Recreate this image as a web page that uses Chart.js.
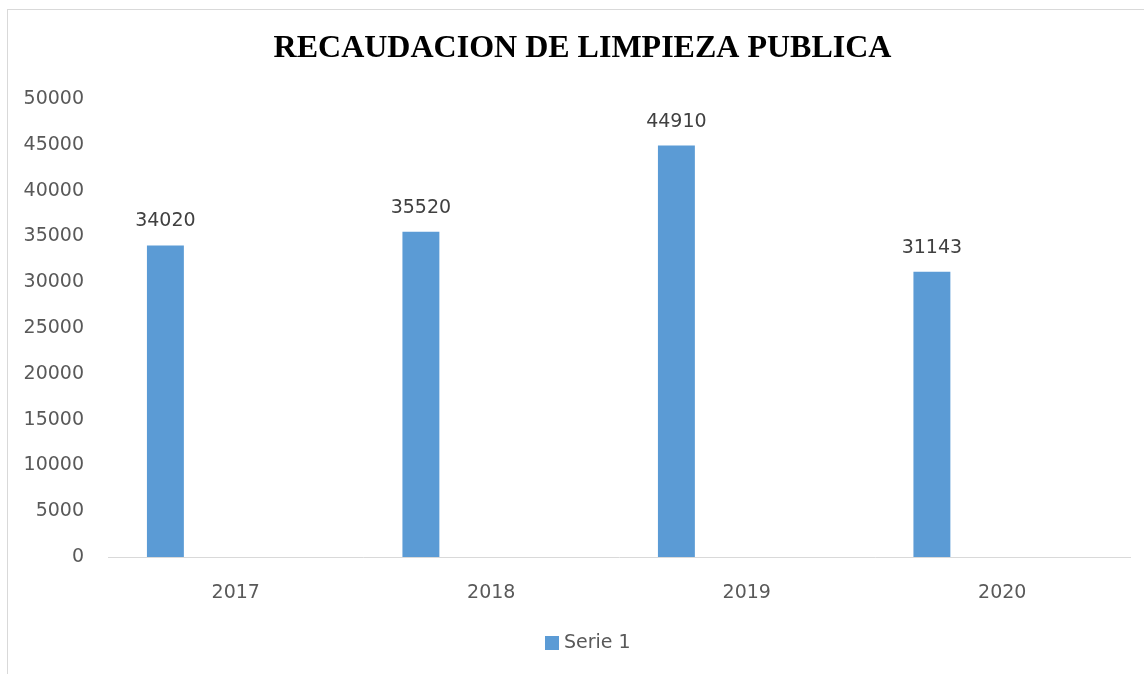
<!DOCTYPE html>
<html>
<head>
<meta charset="utf-8">
<script src="https://cdn.jsdelivr.net/npm/chart.js@4"></script>
<style>
  body { margin: 0; background: #fff; }
  #wrap { position: relative; width: 1144px; height: 674px; overflow: hidden; }
  #frame { position: absolute; left: 7px; top: 9px; width: 1160px; height: 700px; border: 1px solid #d9d9d9; }
  #chart { position: absolute; left: 0; top: 0; }
</style>
</head>
<body>
<div id="wrap">
  <div id="frame"></div>
  <canvas id="chart" width="1144" height="674"></canvas>
</div>
<script>
// data
const years = ['2017', '2018', '2019', '2020'];
const serie1 = [34020, 35520, 44910, 31143];
const serie2 = [null, null, null, null];
const serie3 = [null, null, null, null];
const yTicks = [0, 5000, 10000, 15000, 20000, 25000, 30000, 35000, 40000, 45000, 50000];
const chartTitle = 'RECAUDACION DE LIMPIEZA PUBLICA';
const legendLabel = 'Serie 1';

const barColor = '#5b9bd5';
const textFont = { family: 'DejaVu Sans', size: 19 };

// value labels, title and legend, placed like the original
const extras = {
    id: 'extras',
    afterDatasetsDraw(chart) {
        const ctx = chart.ctx;
        const meta = chart.getDatasetMeta(0);
        ctx.save();
        ctx.font = '19px "DejaVu Sans"';
        ctx.fillStyle = '#404040';
        ctx.textAlign = 'center';
        ctx.textBaseline = 'middle';
        meta.data.forEach(function(bar, i) {
            ctx.fillText(String(serie1[i]), bar.x, bar.y - 24);
        });

        // title
        ctx.font = 'bold 32px "Liberation Serif"';
        ctx.fillStyle = '#000';
        ctx.fillText(chartTitle, 582.5, 49);

        // legend
        ctx.fillStyle = barColor;
        ctx.fillRect(545, 636, 14, 14);
        ctx.font = '19px "DejaVu Sans"';
        ctx.fillStyle = '#595959';
        ctx.textAlign = 'left';
        ctx.fillText(legendLabel, 564, 643);
        ctx.restore();
    }
};

new Chart(document.getElementById('chart'), {
    type: 'bar',
    data: {
        labels: years,
        datasets: [
            { label: 'Serie 1', data: serie1, backgroundColor: barColor },
            { label: 'Serie 2', data: serie2, backgroundColor: '#ed7d31' },
            { label: 'Serie 3', data: serie3, backgroundColor: '#a5a5a5' }
        ]
    },
    options: {
        responsive: false,
        animation: false,
        categoryPercentage: 0.826,
        barPercentage: 0.525,
        layout: { padding: { left: 0, right: 14, top: 99, bottom: 50 } },
        scales: {
            x: {
                grid: { display: false },
                border: { display: true, color: '#d9d9d9', width: 1 },
                ticks: { color: '#595959', font: textFont, padding: 17 },
                afterFit: function(scale) { scale.height = 67; }
            },
            y: {
                min: 0,
                max: 50000,
                afterBuildTicks: function(scale) { scale.ticks = yTicks.map(v => ({ value: v })); },
                grid: { display: false, drawTicks: false },
                border: { display: false },
                ticks: {
                    color: '#595959',
                    font: textFont,
                    padding: 24,
                    callback: function(value) { return String(value); }
                },
                afterFit: function(scale) { scale.width = 108; }
            }
        },
        plugins: {
            title: { display: false },
            legend: { display: false },
            tooltip: { enabled: false }
        }
    },
    plugins: [extras]
});
</script>
</body>
</html>
